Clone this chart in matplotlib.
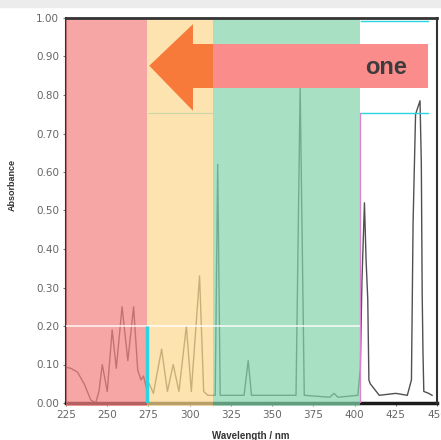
import matplotlib
matplotlib.use("Agg")
import matplotlib.pyplot as plt
from matplotlib.patches import Polygon, Rectangle

# spectrum
wavelength = [225, 228, 232, 236, 240, 243, 245, 247, 250, 253, 255.5, 259, 262.5, 266,
              268.5, 270.5, 272, 274, 275.5, 278, 283, 286.5, 290, 293.5, 298, 301, 306,
              308.5, 311, 315.5, 317, 318.5, 333, 335.5, 337.5, 364.5, 367, 369.5, 385,
              387.5, 390, 402, 403.5, 404.5, 406, 407, 408, 408.7, 409.5, 415, 425, 432,
              434.5, 435.5, 437, 439.7, 440.5, 441, 441.5, 442, 445, 447]
absorbance = [0.093, 0.09, 0.08, 0.05, 0.008, 0.0, 0.03, 0.10, 0.03, 0.19, 0.09, 0.25, 0.11, 0.25,
              0.085, 0.06, 0.07, 0.035, 0.05, 0.025, 0.14, 0.03, 0.10, 0.03, 0.20, 0.03, 0.33,
              0.03, 0.02, 0.02, 0.62, 0.02, 0.02, 0.11, 0.02, 0.02, 0.82, 0.02, 0.015,
              0.025, 0.015, 0.02, 0.09, 0.32, 0.52, 0.37, 0.27, 0.06, 0.05, 0.02, 0.025, 0.02,
              0.06, 0.47, 0.75, 0.785, 0.62, 0.29, 0.13, 0.03, 0.025, 0.02]

band_edges = [225, 274, 314, 403.3]
band_colors = ["#f58080", "#fcd88d", "#83d3ab"]

x_ticks = [225, 250, 275, 300, 325, 350, 375, 400, 425, 450]
y_ticks = [0.0, 0.1, 0.2, 0.3, 0.4, 0.5, 0.6, 0.7, 0.8, 0.9, 1.0]

W, H = 441, 440
fig = plt.figure(figsize=(W / 100, H / 100), dpi=100)
fig.patches.append(Rectangle((0, 1 - 7 / H), 1, 7 / H, transform=fig.transFigure,
                             color="#ececec", zorder=0))

ax = fig.add_axes([66 / W, 1 - 403 / H, (437 - 66) / W, (403 - 18) / H])
ax.plot(wavelength, absorbance, color="#505050", lw=1.0, zorder=2)

# translucent coloured bands over the curve and bottom spine
for i in range(len(band_colors)):
    ax.axvspan(band_edges[i], band_edges[i + 1], ymin=-0.008, ymax=1.0,
               color=band_colors[i], alpha=0.7, lw=0, zorder=3, clip_on=False)

ax.set_xlim(225, 450)
ax.set_ylim(0, 1.0)
ax.set_xticks(x_ticks)
ax.set_xticklabels([str(t) for t in x_ticks])
ax.set_yticks(y_ticks)
ax.set_yticklabels(["%.2f" % t for t in y_ticks])
ax.tick_params(length=2, width=0.8, color="#777", labelcolor="#666", labelsize=7.5, pad=3)

for s in ["left", "right", "top"]:
    ax.spines[s].set_color("#333")
    ax.spines[s].set_linewidth(1.5)
ax.spines["top"].set_linewidth(2)
ax.spines["top"].set_zorder(6)
ax.spines["right"].set_zorder(6)
ax.spines["bottom"].set_color("#1a1a1a")
ax.spines["bottom"].set_linewidth(2.5)

# decoration lines
ax.axhline(0.2, xmin=0, xmax=(403.3 - 225) / 225, color="white", lw=1.2, alpha=0.85, zorder=4)
ax.plot([274, 274], [0, 0.2], color="#2ad4e0", lw=2.5, zorder=5, solid_capstyle="butt")
ax.plot([403.6, 403.6], [0, 0.754], color="#e080d0", lw=0.9, zorder=5)
ax.plot([403.8, 444.5], [0.992, 0.992], color="#2ad4e0", lw=1, zorder=5)
ax.plot([403.8, 444.5], [0.754, 0.754], color="#2ad4e0", lw=1, zorder=5)
ax.plot([275, 314], [0.754, 0.754], color="#c9d6a8", lw=0.8, zorder=5)

# arrow + label bar
head = Polygon([(275.5, 0.876), (302, 0.984), (302, 0.759)], closed=True,
               color="#f77a3a", lw=0, zorder=7)
ax.add_patch(head)
ax.add_patch(Rectangle((301.5, 0.818), 13, 0.115, color="#f77a3a", lw=0, zorder=7))
ax.add_patch(Rectangle((314, 0.818), 130.5, 0.115, color="#fa8c8c", lw=0, zorder=7,
                       clip_on=False))
ax.text(419, 0.872, "one", fontsize=17, fontweight="bold", color="#3c3c3c",
        family="Liberation Sans", ha="center", va="center", zorder=8)

fig.text(12 / W, 1 - 185 / H, "Absorbance", rotation=90, fontsize=6.5,
         fontweight="bold", color="#333", ha="center", va="center", family="Liberation Sans")
fig.text(251 / W, 1 - 431 / H, "Wavelength / nm", fontsize=7, fontweight="bold",
         color="#333", ha="center", va="top", family="Liberation Sans")

fig.savefig("out.png", dpi=100)
